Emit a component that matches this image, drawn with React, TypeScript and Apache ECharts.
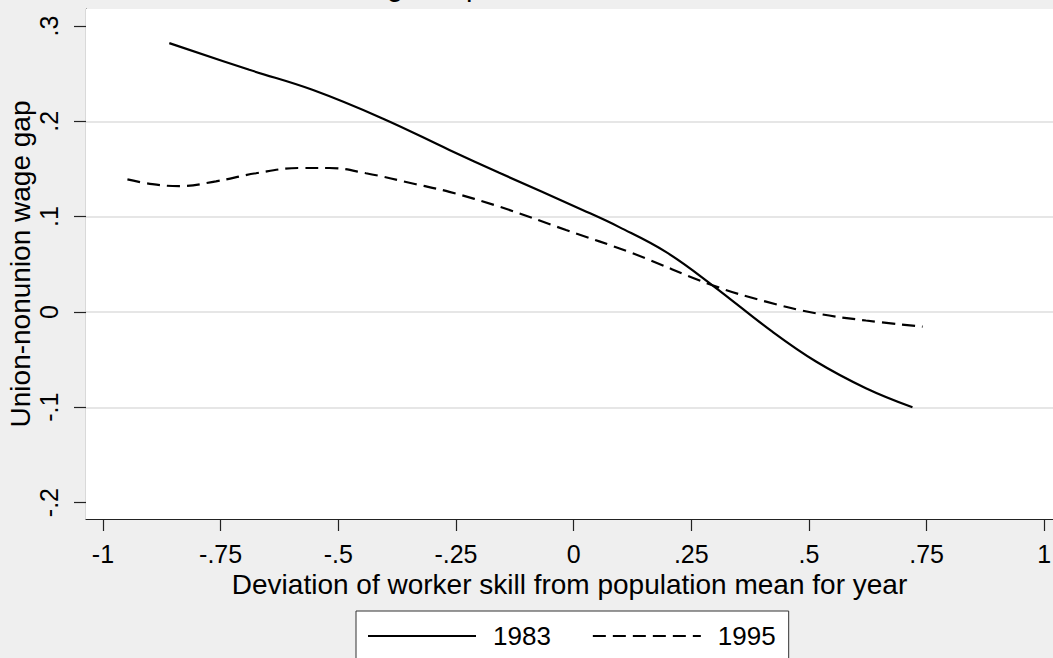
import React, { useEffect, useRef } from "react";
import * as echarts from "echarts";

const titleText = "Union-Nonunion Wage Gap, 1983 and 1995";
const xAxisTitle = "Deviation of worker skill from population mean for year";
const yAxisTitle = "Union-nonunion wage gap";
const seriesNames = ["1983", "1995"];

const xTicks = [-1, -0.75, -0.5, -0.25, 0, 0.25, 0.5, 0.75, 1];
const yTicks = [-0.2, -0.1, 0, 0.1, 0.2, 0.3];
const yGridValues = [-0.1, 0, 0.1, 0.2];

const gap1983: [number, number][] = [
  [-0.859, 0.282], [-0.689, 0.254], [-0.555, 0.233], [-0.406, 0.203],
  [-0.264, 0.17], [-0.158, 0.146], [0.019, 0.107], [0.097, 0.089],
  [0.196, 0.063], [0.295, 0.028], [0.423, -0.021], [0.515, -0.052],
  [0.621, -0.08], [0.72, -0.1],
];

const gap1995: [number, number][] = [
  [-0.948, 0.139], [-0.895, 0.134], [-0.838, 0.132], [-0.76, 0.137],
  [-0.675, 0.1455], [-0.583, 0.151], [-0.519, 0.151], [-0.441, 0.1455],
  [-0.335, 0.134], [-0.264, 0.126], [-0.158, 0.1105], [-0.016, 0.086],
  [0.125, 0.0616], [0.295, 0.028], [0.409, 0.0108], [0.515, -0.0014],
  [0.621, -0.009], [0.7415, -0.0154],
];

function fmt(v: number): string {
  if (v === 0) return "0";
  const s = String(Math.round(v * 100) / 100);
  return s.replace(/^(-?)0\./, "$1.");
}

export default function App() {
  const ref = useRef<HTMLDivElement>(null);
  useEffect(() => {
    if (!ref.current) return;
    const chart = echarts.init(ref.current, null, { renderer: "svg" });
    const font = "'Liberation Sans', Arial, Helvetica, sans-serif";
    chart.setOption({
      animation: false,
      backgroundColor: "#efefef",
      textStyle: { fontFamily: font },
      graphic: [
        {
          type: "text",
          left: 127,
          top: -29,
          silent: true,
          z: 0,
          style: { text: titleText, fontSize: 29, fontFamily: font, fill: "#000" },
        },
      ],
      grid: {
        left: 86,
        top: 9,
        right: 0,
        bottom: 139,
        show: true,
        backgroundColor: "#ffffff",
        borderWidth: 0,
        containLabel: false,
        outerBoundsMode: "none",
        z: 1,
      },
      legend: {
        left: 356,
        top: 611,
        orient: "horizontal",
        padding: [12, 13, 40, 11],
        itemWidth: 108,
        itemHeight: 20,
        itemGap: 41,
        backgroundColor: "#ffffff",
        borderColor: "#333",
        borderWidth: 1,
        borderRadius: 0,
        itemStyle: { opacity: 0 },
        textStyle: { fontSize: 26, color: "#000", fontFamily: font, padding: [0, 0, 0, 12] },
        data: seriesNames,
      },
      xAxis: {
        type: "value",
        min: -1.036,
        max: 1.0186,
        name: xAxisTitle,
        nameLocation: "middle",
        nameGap: 42,
        nameTextStyle: { fontSize: 28, color: "#000", fontFamily: font },
        axisLine: { show: true, onZero: false, lineStyle: { color: "#222", width: 1.2 } },
        axisTick: { show: true, length: 12, customValues: xTicks, lineStyle: { color: "#222", width: 1.2 } },
        axisLabel: {
          customValues: xTicks,
          formatter: (v: number) => fmt(v),
          fontSize: 25,
          color: "#000",
          margin: 22,
          fontFamily: font,
        },
        splitLine: { show: false },
      },
      yAxis: {
        type: "value",
        min: -0.2172,
        max: 0.3178,
        name: yAxisTitle,
        nameLocation: "middle",
        nameGap: 52,
        nameMoveOverlap: false,
        nameRotate: 90,
        nameTextStyle: { fontSize: 28, color: "#000", fontFamily: font },
        axisLine: { show: true, onZero: false, lineStyle: { color: "#222", width: 1.2 } },
        axisTick: { show: true, length: 12, customValues: yTicks, lineStyle: { color: "#222", width: 1.2 } },
        axisLabel: {
          customValues: yTicks,
          formatter: (v: number) => fmt(v),
          rotate: 90,
          fontSize: 25,
          color: "#000",
          margin: 25,
          fontFamily: font,
        },
        splitLine: { show: false },
      },
      series: [
        {
          name: seriesNames[0],
          type: "line",
          data: gap1983,
          smooth: 0.4,
          symbol: "none",
          z: 3,
          lineStyle: { color: "#000", width: 2.2, type: "solid" },
          itemStyle: { color: "#000" },
          markLine: {
            silent: true,
            symbol: "none",
            label: { show: false },
            lineStyle: { color: "#e6e6e6", width: 2, type: "solid" },
            z: 1,
            data: yGridValues.map((v) => ({ yAxis: v })),
          },
        },
        {
          name: seriesNames[1],
          type: "line",
          data: gap1995,
          smooth: 0.4,
          symbol: "none",
          z: 3,
          lineStyle: { color: "#000", width: 2.2, type: [13, 7] },
          itemStyle: { color: "#000" },
        },
      ],
    });
    return () => chart.dispose();
  }, []);
  return (
    <div
      ref={ref}
      style={{ position: "fixed", left: 0, top: 0, width: 1053, height: 658 }}
    />
  );
}
